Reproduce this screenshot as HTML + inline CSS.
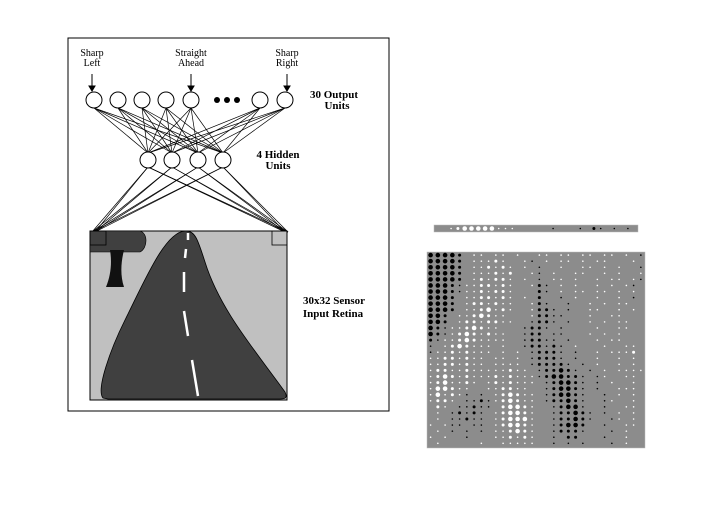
<!DOCTYPE html>
<html><head><meta charset="utf-8"><style>
body{margin:0;background:#fff;width:720px;height:515px;overflow:hidden}
svg{display:block}
text{font-family:"Liberation Serif",serif}
</style></head><body>
<svg width="720" height="515" viewBox="0 0 720 515">
<rect x="68" y="38" width="321" height="373" fill="#fff" stroke="#000" stroke-width="1"/>
<g id="conn" stroke="#000" stroke-width="0.7"></g>
<g>
<rect x="90" y="231" width="197" height="169" fill="#c0c0c0" stroke="#000"/>
<path d="M103,398 C96,390 110,350 125,320 C145,280 165,232 185,231 C195,230 198,240 205,262 C220,310 255,350 285,392 C288,398 285,399 280,399 L108,399 Z" fill="#404040" stroke="#000" stroke-width="0.8"/>
<path d="M90,231 H140 C148,233 148,248 140,252 H90 Z" fill="#404040" stroke="#000" stroke-width="0.6"/>
<path d="M110,250 H124 C121,262 120,275 124,287 H106 C111,275 112,262 110,250 Z" fill="#111"/>
<g stroke="#fff" stroke-width="2.5">
<line x1="188" y1="233" x2="188" y2="240"/><line x1="186" y1="249" x2="185" y2="258"/><line x1="184" y1="272" x2="184" y2="292"/><line x1="184" y1="311" x2="188" y2="336"/><line x1="192" y1="360" x2="198" y2="396"/>
</g>
<rect x="90" y="231" width="16" height="14" fill="none" stroke="#000" stroke-width="0.8"/>
<rect x="272" y="231" width="15" height="14" fill="none" stroke="#000" stroke-width="0.8"/>
</g>
<g id="nodes"></g>
<g fill="#000"><circle cx="217" cy="100" r="3"/><circle cx="227" cy="100" r="3"/><circle cx="237" cy="100" r="3"/></g>
<g font-size="10" text-anchor="middle">
<text x="92" y="56">Sharp</text><text x="92" y="66">Left</text>
<text x="191" y="56">Straight</text><text x="191" y="66">Ahead</text>
<text x="287" y="56">Sharp</text><text x="287" y="66">Right</text>
</g>
<g stroke="#000" fill="#000">
<line x1="92" y1="74" x2="92" y2="87"/><path d="M89,86 L95,86 L92,91Z"/>
<line x1="191" y1="74" x2="191" y2="87"/><path d="M188,86 L194,86 L191,91Z"/>
<line x1="287" y1="74" x2="287" y2="87"/><path d="M284,86 L290,86 L287,91Z"/>
</g>
<g font-size="11" font-weight="bold" text-anchor="middle">
<text x="334" y="98">30 Output</text><text x="337" y="109">Units</text>
<text x="278" y="158">4 Hidden</text><text x="278" y="169">Units</text>
<text x="334" y="304">30x32 Sensor</text><text x="333" y="317">Input Retina</text>
</g>
<rect x="434" y="225" width="204" height="7" fill="#8c8c8c" stroke="#bbb" stroke-width="0.5"/>
<rect x="427" y="252" width="218" height="196" fill="#8c8c8c" stroke="#bbb" stroke-width="0.5"/>
<g id="w"></g>
</svg>
<script>
const outputX=[94,118,142,166,191,260,285];
const hiddenX=[148,172,198,223];
const outWeights="..,wWWWWW,,,.....k...k.bk.k.k.";
const inWeights=[
"BBBBb.,,.,,.,..,,.,,.,,.,,.,.k",
"BBBBb.,,,w,..,k.,.,,.,.,,...,.",
"BBBBb.,,w,w,.,.k..,..,,.,.,..k",
"BBBBb.,,,w,w..,k.,..,,..,.,..,",
"BBBBb.,w,ww,.,.k.,,.,..,.,,.,k",
"BBBbk,,ww,w,..,bk.,.,..,.,.,k.",
"BBBbk,,w,ww,...bk.,.,,.,,.,.,.",
"BBBb.,,ww,w,.,.b..k.,..,..,.k.",
"BBBb.,ww,w,,..,bk..k..,.,.,,..",
"BBBb.,,wW,w,..,bbk.k..,,..,.,.",
"BBb.,,wWw,,...,bbkk...,..,,...",
"BBb.,ww,ww,,..kbbk.k..,.,.,,..",
"Bbk,,wWw,,...kbbk.k....,..,,..",
"Bbk,wWw,w,,..kbb.kk...,.,.,...",
"bk,,wWw,,,,..kbbkk.k...,.,,...",
"k.,wWw,,,.,..kbbkbk.,...,..,,.",
"k,,w,w,,,.,.,.kbbbk.k..,.,,,w.",
",,ww,w,,.,,.,.kbbbk.k..,..,.,.",
",,ww,w,,.,,,,.kbbbbk.k.,..,.,.",
",ww,,w,,,,,w,,.kbbBbk.k.,.,,,,",
",wWw,w,,,w,w,,,kbBBbbk.k,..,,.",
",wW,,w,.,w,w,,,.kbBBbk.k.,..,.",
",WWw,,..,,ww,,..kbBBbk.k..,,,.",
",W,w,k.k.,wWw,,.kbBBbk..k.,.,.",
",ww,.kkbk,wWw,,.kbbBbk..k,..,.",
".w,.kkbkk.wWWw,..kbBBk..k..,,.",
".,.kbkbk.,wWWw,..kbbBbk.k.,.,.",
".,.kkbkk.,wWWW,..kbbBbk..k,.,.",
",.,kk.kk.,wWWw,..kbBBb..k..,,.",
".,.k.k.k.,,wWw,..kbbbk...k.,..",
",.,..k...,,w,w,..k.bb...k..,..",
".,.....,..,,,,,..k.k.k...k.,.."];
const NS='http://www.w3.org/2000/svg';
const conn=document.getElementById('conn'),nodes=document.getElementById('nodes'),wg=document.getElementById('w');
const oy=100,hy=160,rw=[92,285],ry=232;
function ln(x1,y1,x2,y2){const l=document.createElementNS(NS,'line');l.setAttribute('x1',x1);l.setAttribute('y1',y1);l.setAttribute('x2',x2);l.setAttribute('y2',y2);


conn.appendChild(l);}
outputX.forEach(o=>hiddenX.forEach(h=>ln(o,oy+8,h,hy-7)));
hiddenX.forEach(h=>rw.forEach(r=>{ln(h,hy+7,r,ry);ln(h,hy+7,r+3,ry);}));
function node(x,y,r,name){const c=document.createElementNS(NS,'circle');c.setAttribute('cx',x);c.setAttribute('cy',y);c.setAttribute('r',r);c.setAttribute('fill','#fff');c.setAttribute('stroke','#000');


nodes.appendChild(c);}
outputX.forEach(x=>node(x,oy,8,'output-unit'));
hiddenX.forEach(x=>node(x,hy,8,'hidden-unit'));
const lv={'B':-3,'b':-2,'k':-1,'.':0,',':1,'w':2,'W':3};
const rad=[0,0.8,1.5,2.3];
function dot(x,y,v){if(!v)return;const c=document.createElementNS(NS,'circle');c.setAttribute('cx',x);c.setAttribute('cy',y);c.setAttribute('r',rad[Math.abs(v)]);c.setAttribute('fill',v<0?'#000':'#fff');


wg.appendChild(c);}
[...outWeights].forEach((ch,i)=>dot(437.5+i*6.8,228.5,lv[ch]));
inWeights.forEach((row,j)=>[...row].forEach((ch,i)=>dot(430.6+i*7.25,255.1+j*6.07,lv[ch])));
</script>
</body></html>
